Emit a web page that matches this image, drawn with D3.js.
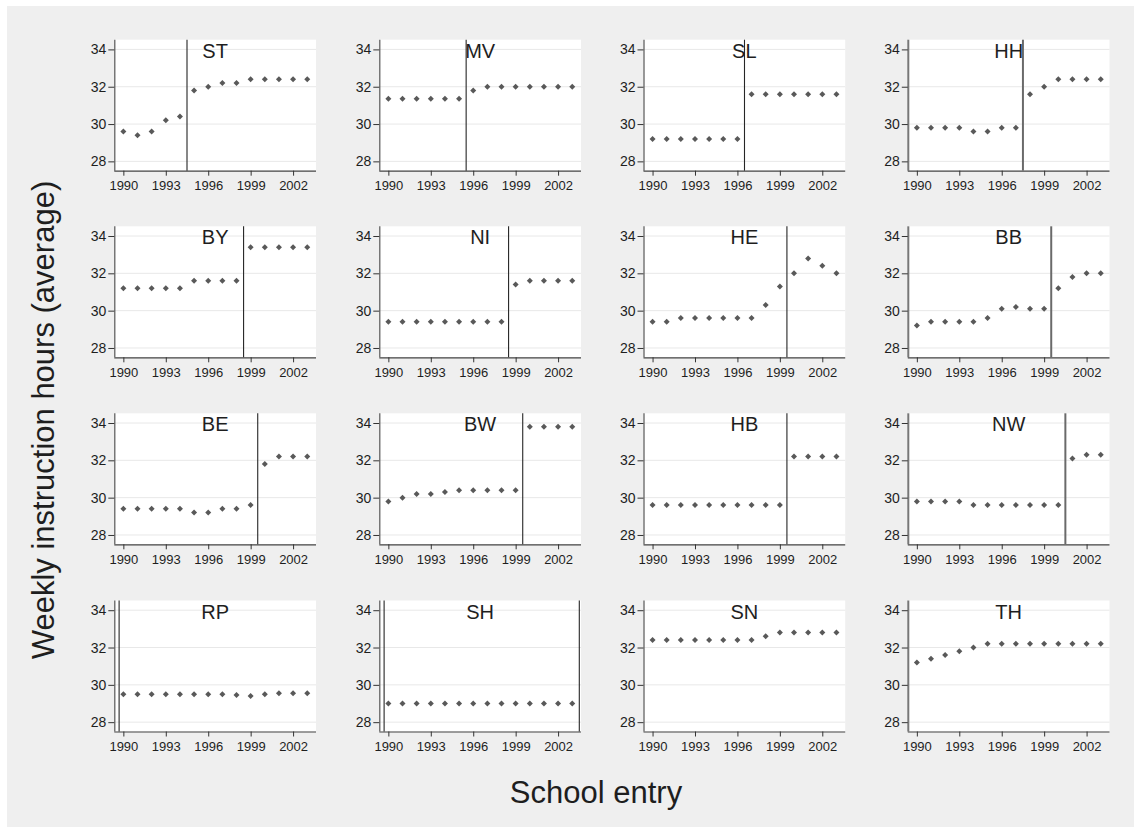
<!DOCTYPE html>
<html>
<head>
<meta charset="utf-8">
<script src="https://cdn.jsdelivr.net/npm/d3@7"></script>
<style>
  html, body { margin: 0; padding: 0; background: #ffffff; }
  svg { display: block; }
  text { font-family: "Liberation Sans", Arial, sans-serif; fill: #1e1e1e; }
</style>
</head>
<body>
<svg id="chart" width="1134" height="827"></svg>
<script>
// ---- data ----
const years = [1990, 1991, 1992, 1993, 1994, 1995, 1996, 1997, 1998, 1999, 2000, 2001, 2002, 2003];
const xTicks = [1990, 1993, 1996, 1999, 2002];
const yTicks = [28, 30, 32, 34];
const states = ["ST", "MV", "SL", "HH", "BY", "NI", "HE", "BB", "BE", "BW", "HB", "NW", "RP", "SH", "SN", "TH"];

const ST = [29.6, 29.4, 29.6, 30.2, 30.4, 31.8, 32.0, 32.2, 32.2, 32.4, 32.4, 32.4, 32.4, 32.4];
const MV = [31.35, 31.35, 31.35, 31.35, 31.35, 31.35, 31.8, 32.0, 32.0, 32.0, 32.0, 32.0, 32.0, 32.0];
const SL = [29.2, 29.2, 29.2, 29.2, 29.2, 29.2, 29.2, 31.6, 31.6, 31.6, 31.6, 31.6, 31.6, 31.6];
const HH = [29.8, 29.8, 29.8, 29.8, 29.6, 29.6, 29.8, 29.8, 31.6, 32.0, 32.4, 32.4, 32.4, 32.4];
const BY = [31.2, 31.2, 31.2, 31.2, 31.2, 31.6, 31.6, 31.6, 31.6, 33.4, 33.4, 33.4, 33.4, 33.4];
const NI = [29.4, 29.4, 29.4, 29.4, 29.4, 29.4, 29.4, 29.4, 29.4, 31.4, 31.6, 31.6, 31.6, 31.6];
const HE = [29.4, 29.4, 29.6, 29.6, 29.6, 29.6, 29.6, 29.6, 30.3, 31.3, 32.0, 32.8, 32.4, 32.0];
const BB = [29.2, 29.4, 29.4, 29.4, 29.4, 29.6, 30.1, 30.2, 30.1, 30.1, 31.2, 31.8, 32.0, 32.0];
const BE = [29.4, 29.4, 29.4, 29.4, 29.4, 29.2, 29.2, 29.4, 29.4, 29.6, 31.8, 32.2, 32.2, 32.2];
const BW = [29.8, 30.0, 30.2, 30.2, 30.3, 30.4, 30.4, 30.4, 30.4, 30.4, 33.8, 33.8, 33.8, 33.8];
const HB = [29.6, 29.6, 29.6, 29.6, 29.6, 29.6, 29.6, 29.6, 29.6, 29.6, 32.2, 32.2, 32.2, 32.2];
const NW = [29.8, 29.8, 29.8, 29.8, 29.6, 29.6, 29.6, 29.6, 29.6, 29.6, 29.6, 32.1, 32.3, 32.3];
const RP = [29.5, 29.5, 29.5, 29.5, 29.5, 29.5, 29.5, 29.5, 29.45, 29.4, 29.5, 29.55, 29.55, 29.55];
const SH = [29.0, 29.0, 29.0, 29.0, 29.0, 29.0, 29.0, 29.0, 29.0, 29.0, 29.0, 29.0, 29.0, 29.0];
const SN = [32.4, 32.4, 32.4, 32.4, 32.4, 32.4, 32.4, 32.4, 32.6, 32.8, 32.8, 32.8, 32.8, 32.8];
const TH = [31.2, 31.4, 31.6, 31.8, 32.0, 32.2, 32.2, 32.2, 32.2, 32.2, 32.2, 32.2, 32.2, 32.2];

// reform cut-offs (vertical lines), per state
const reformLines = [[1994.5], [1995.5], [1996.5], [1997.5], [1998.5], [1998.5], [1999.5], [1999.5],
                     [1999.5], [1999.5], [1999.5], [2000.5], [1989.7], [1989.7, 2003.5], [], []];

const seriesByState = { ST, MV, SL, HH, BY, NI, HE, BB, BE, BW, HB, NW, RP, SH, SN, TH };

// ---- layout ----
const svg = d3.select("#chart");
svg.append("rect").attr("x", 7).attr("y", 6).attr("width", 1127).attr("height", 821).attr("fill", "#efefef");

const panelW = 201.7, panelH = 131;
const colX = [114.3, 379.3, 643.5, 907.8];
const rowY = [39.7, 226.3, 413.3, 600.5];

const x = d3.scaleLinear().domain([1989.36, 2003.62]).range([0, panelW]);
const y = d3.scaleLinear().domain([27.5, 34.52]).range([panelH, 0]);

const diamond = (cx, cy, r) => `M${cx},${cy - r}L${cx + r},${cy}L${cx},${cy + r}L${cx - r},${cy}Z`;

states.forEach((st, i) => {
  const col = i % 4, row = Math.floor(i / 4);
  const g = svg.append("g").attr("transform", `translate(${colX[col]},${rowY[row]})`);
  const vals = seriesByState[st];
  const heavy = col === 3;

  g.append("rect").attr("width", panelW).attr("height", panelH).attr("fill", "#ffffff");

  // gridlines
  g.selectAll(".grid").data(yTicks).join("line")
    .attr("x1", 0).attr("x2", panelW)
    .attr("y1", d => y(d)).attr("y2", d => y(d))
    .attr("stroke", "#e8e8e8").attr("stroke-width", 1);

  // y axis
  const yAxis = g.append("g").call(d3.axisLeft(y).tickValues(yTicks).tickSize(6).tickPadding(2).tickFormat(d3.format("d")));
  yAxis.select(".domain").attr("stroke", heavy ? "#777" : "#555").attr("stroke-width", heavy ? 2 : 1.2)
    .attr("d", `M0.5,0V${panelH}`);
  yAxis.selectAll(".tick line").attr("stroke", "#333");
  yAxis.selectAll(".tick text").attr("font-size", 14).attr("fill", "#1e1e1e")
    .attr("font-family", "Liberation Sans, Arial, sans-serif");

  // x axis
  const xAxis = g.append("g").attr("transform", `translate(0,${panelH})`)
    .call(d3.axisBottom(x).tickValues(xTicks).tickSize(5).tickPadding(5).tickFormat(d3.format("d")));
  xAxis.select(".domain").attr("stroke", "#444").attr("stroke-width", 1.2).attr("d", `M0,0.5H${panelW}`);
  xAxis.selectAll(".tick line").attr("stroke", "#333");
  xAxis.selectAll(".tick text").attr("font-size", 13).attr("fill", "#1e1e1e")
    .attr("font-family", "Liberation Sans, Arial, sans-serif");

  // reform lines
  g.selectAll(".vline").data(reformLines[i]).join("line")
    .attr("x1", d => x(d)).attr("x2", d => x(d))
    .attr("y1", 0).attr("y2", panelH)
    .attr("stroke", heavy ? "#6a6a6a" : "#262626")
    .attr("stroke-width", heavy ? 2 : 1.1);

  // markers
  g.selectAll(".pt").data(years.map((yr, k) => [yr, vals[k]])).join("path")
    .attr("d", d => diamond(x(d[0]), y(d[1]), 3))
    .attr("fill", "#595959");

  // title
  g.append("text").attr("x", panelW / 2).attr("y", 18).attr("text-anchor", "middle")
    .attr("font-size", 20).text(st);
});

// axis titles
svg.append("text").attr("transform", "translate(54,420) rotate(-90)")
  .attr("text-anchor", "middle").attr("font-size", 31).text("Weekly instruction hours (average)");
svg.append("text").attr("x", 596).attr("y", 803)
  .attr("text-anchor", "middle").attr("font-size", 31).text("School entry");
</script>
</body>
</html>
